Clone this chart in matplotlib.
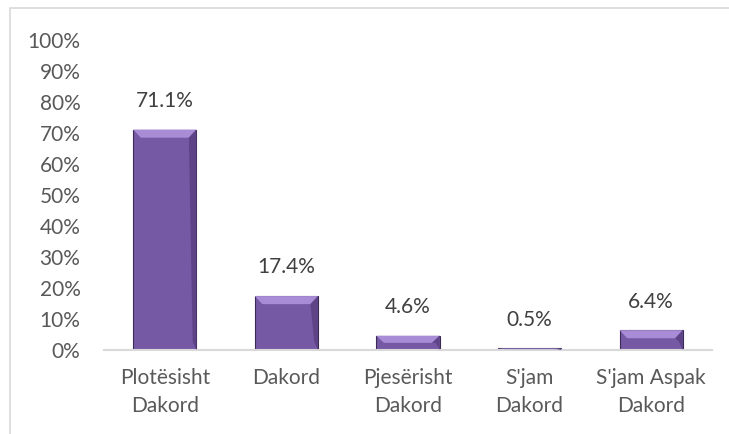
import matplotlib
matplotlib.use("Agg")
import matplotlib.pyplot as plt
from matplotlib.patches import Polygon, Rectangle
from matplotlib.ticker import FuncFormatter

categorias = ["Plotësisht\nDakord", "Dakord", "Pjesërisht\nDakord", "S'jam\nDakord", "S'jam Aspak\nDakord"]
valores = [71.1, 17.4, 4.6, 0.5, 6.4]
etiquetas = ["71.1%", "17.4%", "4.6%", "0.5%", "6.4%"]

plt.rcParams['font.family'] = ['Lato', 'DejaVu Sans']
gris = '#595959'

fig = plt.figure(figsize=(7.29, 4.34), dpi=100)
# marco del grafico
fig.patches.append(Rectangle((10 / 729, -0.01), 1.0, (434 - 8) / 434 + 0.01,
                             transform=fig.transFigure, fill=False,
                             edgecolor='#d9d9d9', linewidth=1.2))

ax = fig.add_axes([104 / 729, 84 / 434, (712 - 104) / 729, (394 - 84) / 434])

x = range(len(categorias))
ancho = 0.52
barras = ax.bar(x, valores, width=ancho, color='#7659a5', edgecolor='#3b2a55', linewidth=0.8, zorder=2)

# efecto biselado simple en la parte superior de cada barra
for b in barras:
    x0, w, h = b.get_x(), b.get_width(), b.get_height()
    dx = w * 0.12
    dy = min(2.6, h / 2)
    tapa = Polygon([(x0, h), (x0 + w, h), (x0 + w - dx, h - dy), (x0 + dx, h - dy)],
                   closed=True, facecolor='#a88cd6', edgecolor='none', zorder=3)
    ax.add_patch(tapa)
    lado = Polygon([(x0 + w, h), (x0 + w, 0), (x0 + w - dx * 0.5, min(dy, h)), (x0 + w - dx, h - dy)],
                   closed=True, facecolor='#5e4487', edgecolor='none', zorder=3)
    ax.add_patch(lado)

for xi, v, t in zip(x, valores, etiquetas):
    ax.text(xi, v + 6, t, ha='center', va='bottom', fontsize=15, color='#404040')

ax.set_ylim(0, 100)
ax.set_xlim(-0.5, len(categorias) - 0.5)
ax.set_yticks(range(0, 101, 10))
ax.yaxis.set_major_formatter(FuncFormatter(lambda v, p: f"{int(v)}%"))
ax.set_xticks(list(x))
ax.set_xticklabels(categorias, fontsize=15, color=gris, linespacing=1.5)
ax.tick_params(axis='y', length=0, labelsize=15, labelcolor=gris, pad=17)
ax.tick_params(axis='x', length=0, pad=13)

for s in ['top', 'right', 'left']:
    ax.spines[s].set_visible(False)
ax.spines['bottom'].set_color('#d9d9d9')
ax.spines['bottom'].set_linewidth(1.5)

fig.savefig("out.png", dpi=100)
